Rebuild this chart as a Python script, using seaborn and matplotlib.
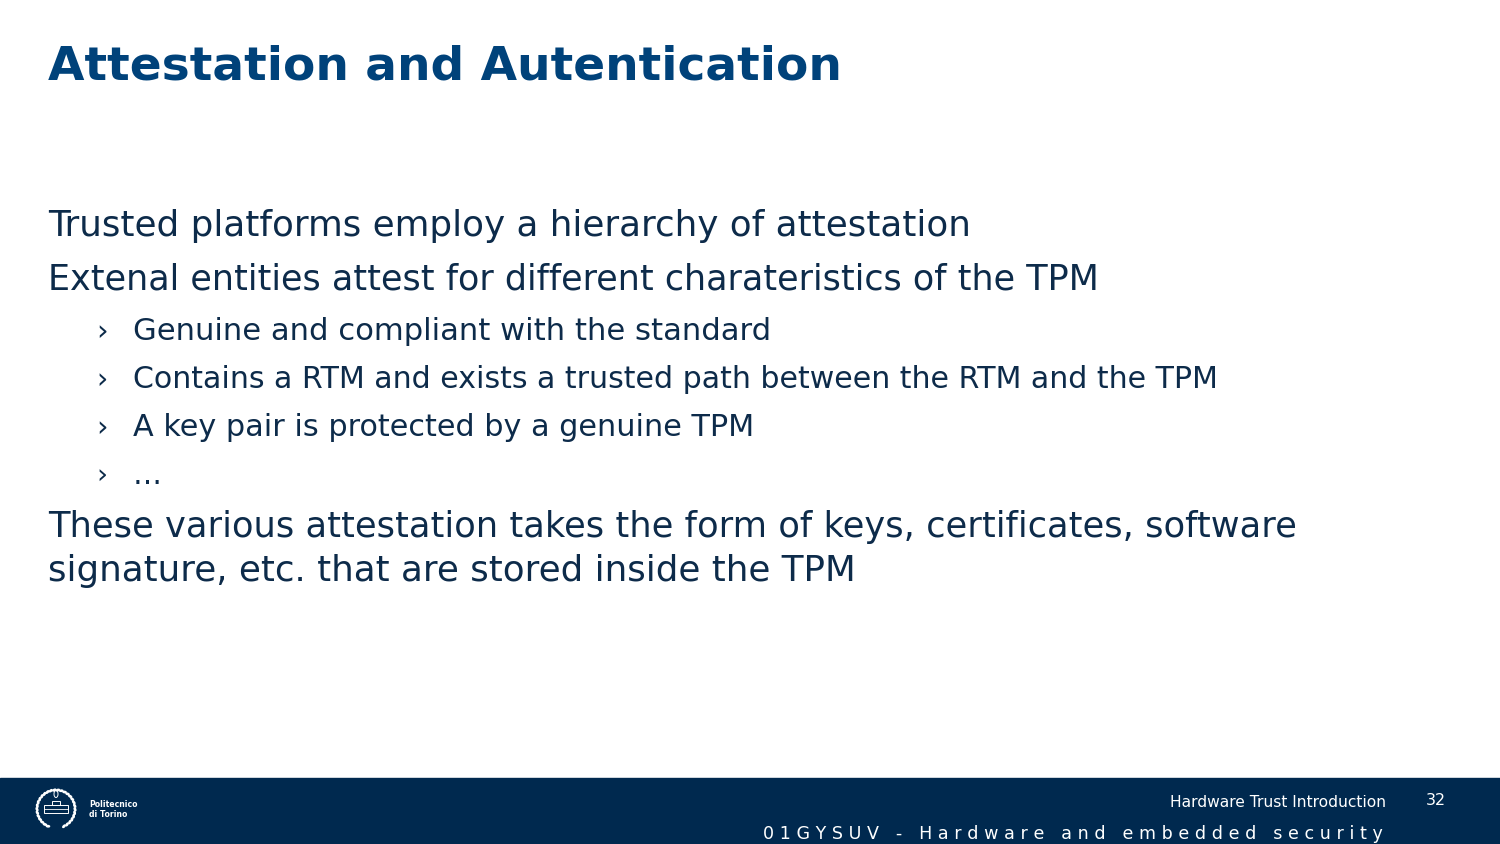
import numpy as np
import matplotlib
matplotlib.use("Agg")
import matplotlib.pyplot as plt
from matplotlib.patches import Rectangle, Ellipse
import seaborn as sns

# ---- slide content ----
title_text = "Attestation and Autentication"
main_lines = ["Trusted platforms employ a hierarchy of attestation",
              "Extenal entities attest for different charateristics of the TPM"]
bullet_lines = ["Genuine and compliant with the standard",
                "Contains a RTM and exists a trusted path between the RTM and the TPM",
                "A key pair is protected by a genuine TPM",
                "…"]
closing_lines = ["These various attestation takes the form of keys, certificates, software",
                 "signature, etc. that are stored inside the TPM"]
footer_title = "Hardware Trust Introduction"
page_number = "32"
course_name = "01GYSUV - Hardware and embedded security"
logo_lines = ["Politecnico", "di Torino"]

# ---- layout (pixels) ----
W, H = 1500, 844
TITLE_COLOR = "#00427a"
TEXT_COLOR = "#0d2b4a"
FOOTER_COLOR = "#00294f"

sns.set_theme(style="white")
plt.rcParams['font.family'] = ['DejaVu Sans']

fig = plt.figure(figsize=(W / 100, H / 100), dpi=100)
ax = fig.add_axes([0, 0, 1, 1])
ax.set_xlim(0, W)
ax.set_ylim(H, 0)
ax.axis("off")
renderer = fig.canvas.get_renderer()


def fit_text(x, y, s, target_w, size0=20, ha="left", **kw):
    t = ax.text(x, y, s, fontsize=size0, ha=ha, va="baseline", **kw)
    w = t.get_window_extent(renderer).width
    t.set_fontsize(size0 * target_w / w)
    return t


# title
fit_text(48, 80, title_text, 794, weight="bold", color=TITLE_COLOR)

# main lines
main_y = [236, 290]
main_w = [922, 1050]
for s, y, w in zip(main_lines, main_y, main_w):
    fit_text(48, y, s, w, color=TEXT_COLOR)

# bullets
bullet_y = [340, 388, 436, 484]
bullet_w = [638, 1084, 619, 29]
for s, y, w in zip(bullet_lines, bullet_y, bullet_w):
    t = fit_text(133, y, s, w, color=TEXT_COLOR)
    ax.text(96, y, "›", fontsize=t.get_fontsize() * 0.95, ha="left", va="baseline",
            color=TEXT_COLOR)

# closing paragraph
close_y = [537, 581]
close_w = [1248, 805]
for s, y, w in zip(closing_lines, close_y, close_w):
    fit_text(48, y, s, w, color=TEXT_COLOR)

# footer band
ax.add_patch(Rectangle((0, 778), W, H - 778, color=FOOTER_COLOR, zorder=0))
fit_text(1386, 807, footer_title, 216, ha="right", color="white")
ax.text(1446, 805, page_number, fontsize=11.5, ha="right", va="baseline", color="white")
spaced = " ".join(course_name)
fit_text(1383, 839, spaced, 616, ha="right", color="white")

# logo: laurel ring + caption
cx, cy, r = 56, 809, 19
angles = np.linspace(np.deg2rad(-245), np.deg2rad(65), 30)
for a in angles:
    ex, ey = cx + r * np.cos(a), cy + r * np.sin(a)
    ax.add_patch(Ellipse((ex, ey), 3.2, 1.4, angle=np.rad2deg(a) + 70,
                         color="white", zorder=3))
ax.add_patch(Rectangle((cx - 12, cy - 4), 24, 8, fill=False, ec="white", lw=0.7, zorder=3))
ax.add_patch(Rectangle((cx - 4, cy - 8), 8, 4, fill=False, ec="white", lw=0.7, zorder=3))
ax.plot([cx - 12, cx + 12], [cy, cy], color="white", lw=0.6, zorder=3)
ax.add_patch(Ellipse((cx, cy - 15), 4, 7, fill=False, ec="white", lw=0.7, zorder=3))
fit_text(89, 807, logo_lines[0], 48, weight="bold", color="white")
fit_text(89, 817, logo_lines[1], 38, weight="bold", color="white")

fig.savefig("out.png", dpi=100, facecolor="white")
